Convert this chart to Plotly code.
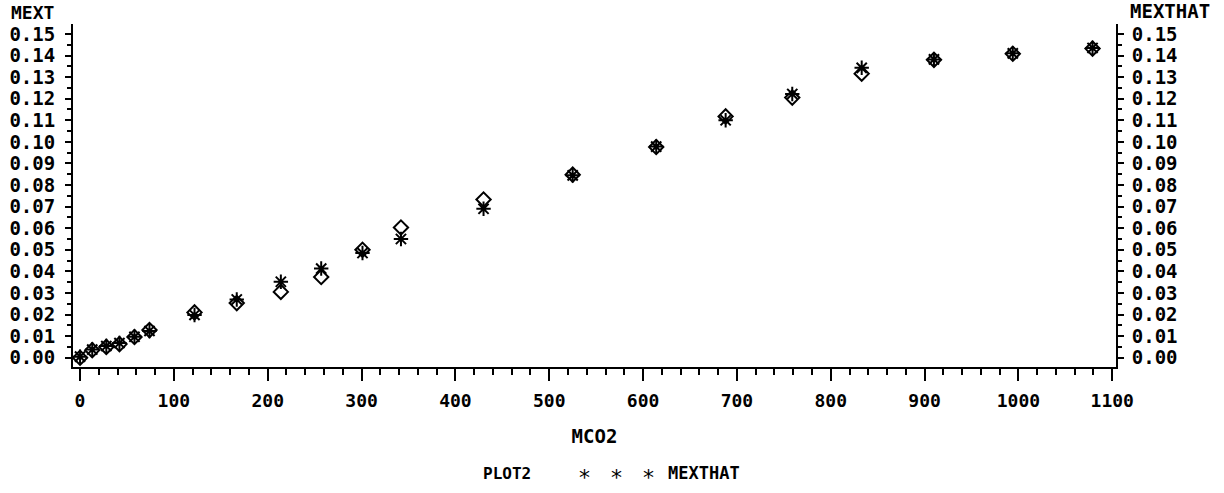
import plotly.graph_objects as go

# Data
mco2 = [0, 13, 28, 42, 58, 74, 122, 167, 214, 257, 301, 342, 430, 525, 614, 688, 759, 833, 910, 994, 1079]
mext = [0.0000, 0.0035, 0.0050, 0.0063, 0.0096, 0.0128, 0.0210, 0.0253, 0.0305, 0.0374, 0.0500,
        0.0603, 0.0733, 0.0848, 0.0976, 0.1118, 0.1205, 0.1316, 0.1380, 0.1408, 0.1432]
mexthat = [0.0005, 0.0038, 0.0054, 0.0068, 0.0097, 0.0124, 0.0198, 0.0270, 0.0352, 0.0413, 0.0485,
           0.0550, 0.0690, 0.0845, 0.0978, 0.1100, 0.1222, 0.1343, 0.1382, 0.1410, 0.1435]

x_ticks = list(range(0, 1101, 100))
y_ticks = [i / 100 for i in range(0, 16)]

FONT = "DejaVu Sans Mono"
xtickfont = dict(family=FONT, size=18, color="black", weight="bold")
ytickfont = dict(family=FONT, size=19, color="black", weight="bold")

fig = go.Figure()
fig.add_trace(go.Scatter(
    x=mco2, y=mext, mode="markers", name="MEXT", showlegend=False,
    marker=dict(symbol="diamond-open", size=11, color="black", line=dict(width=2, color="black")),
    yaxis="y"))
fig.add_trace(go.Scatter(
    x=mco2, y=mexthat, mode="markers", name="MEXTHAT", showlegend=False,
    marker=dict(symbol="asterisk-open", size=12, color="black", line=dict(width=2, color="black")),
    yaxis="y2"))

yrange = [-0.0043, 0.1546]
fig.update_layout(
    template="none",
    width=1224, height=493,
    margin=dict(l=73, r=108, t=24, b=126, autoexpand=False),
    paper_bgcolor="white", plot_bgcolor="white",
    font=dict(family=FONT, color="black"),
    xaxis=dict(
        range=[-7.5, 1104], tickvals=x_ticks, ticktext=[str(v) for v in x_ticks],
        automargin=False,
        showline=True, linecolor="black", linewidth=2, mirror=False,
        ticks="outside", ticklen=12, tickwidth=2, tickcolor="black",
        minor=dict(dtick=20, tick0=0, ticks="outside", ticklen=6, tickwidth=2, tickcolor="black", showgrid=False),
        showgrid=False, zeroline=False, tickfont=xtickfont, ticklabelstandoff=4,
        title=dict(text="MCO2", font=dict(family=FONT, size=19, color="black", weight="bold"), standoff=20),
    ),
    yaxis=dict(
        range=yrange, tickvals=y_ticks, ticktext=[f"{v:.2f}" for v in y_ticks],
        automargin=False,
        showline=True, linecolor="black", linewidth=2,
        ticks="outside", ticklen=6, tickwidth=2, tickcolor="black",
        minor=dict(dtick=0.005, tick0=0, ticks="outside", ticklen=4, tickwidth=2, tickcolor="black", showgrid=False),
        showgrid=False, zeroline=False, tickfont=ytickfont, ticklabelstandoff=6,
    ),
    yaxis2=dict(
        range=yrange, tickvals=y_ticks, ticktext=[f"{v:.2f}" for v in y_ticks],
        automargin=False,
        overlaying="y", side="right", anchor="x",
        showline=True, linecolor="black", linewidth=2,
        ticks="outside", ticklen=6, tickwidth=2, tickcolor="black",
        minor=dict(dtick=0.005, tick0=0, ticks="outside", ticklen=4, tickwidth=2, tickcolor="black", showgrid=False),
        showgrid=False, zeroline=False, tickfont=ytickfont, ticklabelstandoff=4,
    ),
    annotations=[
        dict(text="MEXT", xref="paper", yref="paper", x=-0.061, y=1.0, xanchor="left", yanchor="bottom",
             yshift=-1, showarrow=False, font=dict(family=FONT, size=18, color="black", weight="bold")),
        dict(text="MEXTHAT", xref="paper", yref="paper", x=1.0115, y=1.0, xanchor="left", yanchor="bottom",
             yshift=0, showarrow=False, font=dict(family=FONT, size=19, color="black", weight="bold")),
        dict(text="PLOT2", xref="paper", yref="paper", x=0.391, y=0, xanchor="left", yanchor="middle",
             yshift=-106, showarrow=False, font=dict(family=FONT, size=16, color="black", weight="bold")),
        dict(text="*   *   *", xref="paper", yref="paper", x=0.483, y=0, xanchor="left", yanchor="middle",
             yshift=-110, showarrow=False, font=dict(family="DejaVu Sans", size=22, color="black")),
        dict(text="MEXTHAT", xref="paper", yref="paper", x=0.5685, y=0, xanchor="left", yanchor="middle",
             yshift=-106, showarrow=False, font=dict(family=FONT, size=17, color="black", weight="bold")),
    ],
)

fig.write_html("out.html")
